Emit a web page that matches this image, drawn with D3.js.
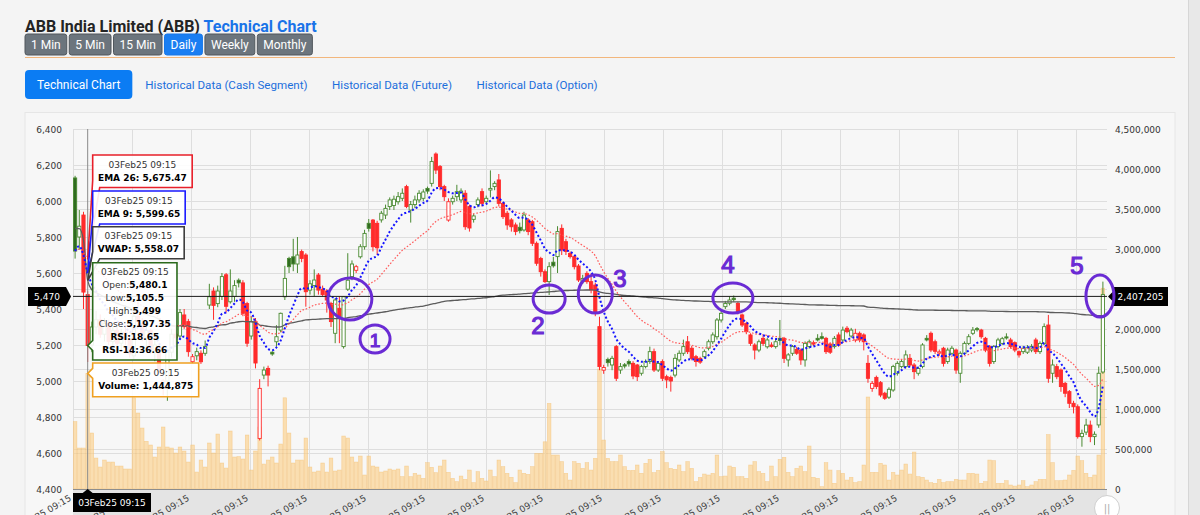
<!DOCTYPE html>
<html><head><meta charset="utf-8">
<script src="https://cdn.jsdelivr.net/npm/d3@7/dist/d3.min.js"></script>
<style>
html,body{margin:0;padding:0;background:#f4f4f4;overflow:hidden}
svg{display:block}
</style></head><body>
<svg id="c" width="1200" height="515"></svg>
<script>
// ---------------- DATA ----------------
const titleMain = "ABB India Limited (ABB)";
const titleAccent = "Technical Chart";
const intervals = ["1 Min","5 Min","15 Min","Daily","Weekly","Monthly"];
const activeInterval = "Daily";
const tabs = ["Technical Chart","Historical Data (Cash Segment)","Historical Data (Future)","Historical Data (Option)"];

const opens = [6128,5800,5922,5480.1,5200,5300,5340,5260,5320,5220,
5280,5210,5270,5230,5140,5360,5320,5240,5280,5170,
5190,4960,5000,5160,5260,5250,5367,5330,5107,5140,
5154,5154,5422,5500,5430,5470,5590,5440,5470,5560,
5545,5430,5250,5330,4681,5033,5070,5160,5218,5283,
5468,5681,5690,5650,5719,5700,5505,5530,5589,5510,
5500,5431,5265,5404,5191,5510,5580,5615,5690,5746,
5876,5894,5876,5895,5922,5969,5975,5996,6015,6080,
5950,5980,6006,6015,6070,6098,6261,6191,6080,5894,
5996,6024,6006,6043,5969,5898,5980,6052,5996,6061,
6080,6117,5987,5932,5895,5867,5854,5839,5895,5885,
5765,5681,5607,5552,5660,5691,5848,5774,5709,5691,
5639,5552,5598,5552,5533,5302,5060,5120,5089,5191,
5061,5090,5108,5098,5089,5043,5080,5108,5163,5061,
5108,5024,5020,5033,5117,5154,5218,5182,5135,5126,
5135,5182,5218,5246,5339,5413,5432,5460,5431,5367,
5320,5256,5200,5172,5237,5190,5200,5191,5237,5237,
5117,5154,5176,5172,5117,5191,5213,5237,5246,5237,
5205,5191,5256,5228,5293,5250,5228,5265,5256,5098,
4959,5020,4991,4932,4910,4950,5043,5080,5080,5126,
5089,5043,5080,5237,5265,5218,5155,5182,5108,5154,
5172,5043,5154,5209,5265,5291,5283,5237,5191,5108,
5191,5209,5245,5228,5213,5163,5163,5160,5172,5228,
5163,5209,5311,5043,5080,5061,4987,4941,4876,4857,
4691,4716,4755,4691,4756,5050];

const highs = [6140,5950,5940,5499,5330,5390,5370,5350,5340,5300,
5300,5290,5310,5250,5380,5440,5350,5300,5290,5230,
5200,5010,5180,5290,5300,5400,5400,5345,5150,5185,
5170,5225,5540,5520,5530,5600,5600,5620,5560,5570,
5560,5440,5360,5350,5010,5080,5085,5165,5310,5380,
5640,5690,5790,5800,5730,5710,5560,5620,5600,5530,
5510,5440,5460,5470,5470,5710,5670,5645,5760,5840,
5900,5900,5890,5945,5980,6020,6030,6050,6070,6090,
6000,6030,6060,6065,6080,6245,6270,6200,6090,6015,
6030,6090,6070,6060,5980,5930,6020,6070,6030,6170,
6110,6150,5995,5945,5905,5880,5880,5940,5905,5895,
5775,5690,5620,5660,5690,5860,5870,5790,5720,5700,
5650,5590,5610,5598,5545,5357,5090,5130,5140,5200,
5100,5100,5120,5110,5095,5090,5120,5191,5180,5110,
5120,5035,5030,5150,5170,5230,5250,5195,5145,5135,
5175,5230,5270,5350,5390,5445,5470,5475,5440,5375,
5330,5265,5210,5230,5250,5240,5215,5230,5339,5245,
5155,5200,5190,5180,5220,5230,5225,5260,5270,5245,
5215,5250,5270,5302,5305,5295,5290,5275,5265,5144,
5000,5030,5000,4940,4965,5090,5110,5120,5170,5150,
5100,5080,5210,5255,5275,5230,5175,5190,5185,5195,
5180,5165,5220,5260,5300,5300,5290,5245,5200,5200,
5240,5245,5265,5240,5220,5170,5195,5200,5205,5240,
5220,5320,5367,5120,5095,5070,4995,4950,4890,4870,
4730,4790,4780,4720,5080,5552];

const lows = [5680,5730,5400,5105.5,5160,5260,5240,5220,5200,5180,
5190,5170,5200,5130,5120,5300,5220,5180,5150,5110,
5040,4920,4890,5130,5200,5230,5290,5135,5095,5115,
5095,5140,5400,5340,5410,5450,5380,5430,5440,5520,
5360,5190,5230,5070,4670,5010,4970,5140,5190,5270,
5450,5600,5610,5600,5660,5413,5480,5470,5480,5470,
5380,5300,5210,5210,5180,5500,5560,5600,5680,5730,
5830,5720,5700,5880,5900,5950,5950,5980,6000,5960,
5880,5960,5990,6000,6040,6080,6150,6060,6000,5885,
5980,6000,5990,5840,5830,5880,5965,5970,5985,6020,
6060,5970,5900,5840,5830,5810,5820,5830,5810,5750,
5640,5580,5545,5478,5630,5600,5700,5700,5680,5620,
5550,5540,5540,5487,5360,5060,5040,5080,5060,5000,
5040,5070,5080,5010,5000,5030,5070,5095,5050,5050,
5000,4960,4941,5020,5105,5140,5150,5115,5080,5095,
5125,5170,5205,5230,5325,5400,5420,5440,5370,5300,
5260,5195,5120,5160,5195,5180,5185,5180,5200,5100,
5080,5140,5145,5090,5080,5180,5195,5220,5230,5150,
5150,5180,5190,5215,5265,5240,5215,5215,5170,4990,
4940,4955,4910,4895,4900,4940,5030,5070,5070,5080,
5010,5030,5070,5220,5160,5150,5140,5080,5095,5145,
5040,4990,5145,5200,5255,5275,5235,5160,5080,5095,
5180,5200,5230,5180,5160,5130,5150,5150,5160,5150,
5150,5200,4990,4990,5010,4940,4910,4850,4820,4680,
4635,4700,4660,4644,4740,5040];

const closes = [5722,5860,5494,5197.35,5300,5340,5260,5320,5220,5280,
5210,5270,5230,5150,5360,5330,5240,5280,5170,5200,
5060,5000,5160,5260,5240,5380,5302,5163,5135,5163,
5107,5191,5468,5420,5500,5580,5415,5500,5530,5545,
5376,5210,5330,5100,4959,5061,5033,5150,5246,5376,
5570,5635,5650,5700,5681,5496,5540,5561,5505,5480,
5450,5330,5450,5357,5468,5560,5650,5635,5746,5820,
5848,5746,5740,5932,5959,6006,6010,6024,6043,5969,
5980,6006,6043,6050,6055,6219,6172,6080,6024,5996,
6015,6052,6055,5857,5850,5917,6006,5987,6015,6070,
6098,5987,5913,5867,5857,5830,5835,5922,5830,5765,
5654,5607,5552,5635,5640,5830,5728,5720,5691,5635,
5561,5570,5552,5506,5376,5080,5075,5102,5126,5015,
5080,5083,5095,5028,5024,5080,5108,5163,5061,5098,
5015,5006,5000,5126,5154,5191,5163,5126,5108,5105,
5163,5218,5256,5339,5376,5431,5450,5452,5385,5311,
5274,5209,5172,5218,5209,5228,5192,5218,5225,5126,
5145,5191,5154,5117,5209,5218,5205,5228,5237,5163,
5160,5237,5200,5283,5274,5283,5265,5228,5218,5015,
4987,4969,4922,4904,4954,5080,5098,5108,5145,5089,
5052,5070,5200,5228,5172,5165,5162,5098,5172,5182,
5061,5154,5209,5246,5283,5285,5246,5172,5098,5191,
5228,5235,5239,5191,5172,5145,5182,5185,5191,5163,
5209,5302,5015,5089,5024,4969,4932,4876,4857,4691,
4709,4755,4691,4704,5043,5480];

const volumes = [842000,512000,512000,1444875,700000,387000,275000,362000,337000,337000,
287000,287000,250000,250000,1140000,950000,762000,596000,550000,400000,
525000,775000,525000,512000,450000,525000,475000,337000,550000,212000,
362000,275000,575000,450000,687000,325000,262000,725000,400000,405000,
375000,675000,237000,475000,775000,312000,362000,400000,325000,562000,
1140000,700000,325000,362000,362000,637000,275000,212000,225000,325000,
212000,387000,225000,237000,662000,637000,400000,337000,412000,175000,
412000,287000,275000,212000,225000,250000,237000,250000,154000,287000,
154000,196000,175000,133000,329000,271000,204000,287000,362000,208000,
133000,92000,162000,121000,237000,79000,217000,133000,100000,237000,
154000,362000,279000,196000,146000,79000,237000,196000,183000,279000,
446000,446000,590000,1070000,425000,425000,342000,196000,112000,342000,
321000,258000,329000,237000,383000,1500000,612000,383000,342000,342000,
425000,279000,233000,233000,300000,196000,321000,371000,204000,233000,
467000,329000,258000,246000,300000,217000,342000,258000,92000,146000,
187000,175000,196000,425000,154000,162000,287000,271000,154000,154000,
133000,300000,342000,217000,196000,92000,287000,154000,371000,396000,
208000,154000,258000,287000,217000,537000,146000,133000,29000,329000,
237000,71000,229000,196000,112000,146000,79000,92000,300000,1150000,
208000,208000,321000,300000,112000,208000,175000,237000,312000,187000,
462000,154000,146000,112000,79000,71000,121000,79000,92000,92000,
121000,112000,112000,196000,196000,187000,71000,92000,362000,354000,
71000,71000,104000,50000,37000,50000,104000,29000,50000,92000,
121000,121000,680000,329000,104000,104000,112000,175000,233000,412000,
354000,196000,146000,175000,425000,2510000];

const xTickLabels = ["29Jan25 09:15","18Feb25 09:15","11Mar25 09:15","02Apr25 09:15","25Apr25 09:15","16May25 09:15",
"05Jun25 09:15","25Jun25 09:15","15Jul25 09:15","04Aug25 09:15","25Aug25 09:15","15Sep25 09:15",
"06Oct25 09:15","27Oct25 09:15","17Nov25 09:15","05Dec25 09:15","26Dec25 09:15","15Jan26 09:15"];
const priceTicks = [4400,4600,4800,5000,5200,5400,5600,5800,6000,6200,6400];
const volumeTicks = [0,500000,1000000,1500000,2000000,2500000,3000000,3500000,4000000,4500000];

// hover state shown in the picture
const hoverIndex = 3;
const hoverLabel = "03Feb25 09:15";
const hoverEMA26 = 5675.47, hoverEMA9 = 5599.65, hoverVWAP = 5558.07;
const hoverRSI = 18.65, hoverRSI14 = 36.66;
const cursorPrice = 5470, cursorVolume = 2407205;

// hand-drawn marks
const markLabels = ["1","2","3","4","5"];

// ---------------- LAYOUT ----------------
const W=1200,H=515;
const svg=d3.select("#c");
const N=closes.length;
const plotL=73, plotR=1107, plotT=129, plotB=489;
const x=d3.scaleLinear().domain([-0.5,N-0.5]).range([plotL,1105]);
const yP=d3.scaleLinear().domain([4400,6400]).range([plotB,plotT]);
const yV=d3.scaleLinear().domain([0,4500000]).range([plotB,plotT]);
const FUI="Roboto, 'Open Sans', sans-serif";
const FCH="'DejaVu Sans', Verdana, sans-serif";
const fmt=d3.format(",");

svg.append("rect").attr("width",W).attr("height",H).attr("fill","#f4f4f4");
svg.append("rect").attr("x",1188).attr("y",0).attr("width",12).attr("height",H).attr("fill","#e8e8e8");
svg.append("line").attr("x1",1188.5).attr("x2",1188.5).attr("y1",0).attr("y2",H).attr("stroke","#d6d6d6");

// header
const title=svg.append("text").attr("x",25).attr("y",32).attr("font-family",FUI).attr("font-weight",700).attr("font-size",16);
title.append("tspan").attr("fill","#242424").text(titleMain+" ");
title.append("tspan").attr("fill","#1a73e8").text(titleAccent);

let bx=25;
intervals.forEach(t=>{
  const g=svg.append("g");
  const active = t===activeInterval;
  const r=g.append("rect");
  const tx=g.append("text").attr("font-family",FUI).attr("font-size",12).attr("fill","#fff").text(t);
  const w=tx.node().getComputedTextLength()+12;
  r.attr("x",bx).attr("y",34).attr("width",w).attr("height",21).attr("rx",2.5)
   .attr("fill",active?"#1a7ef2":"#6c757d").attr("stroke",active?"#1677e8":"#50575d").attr("stroke-width",1);
  tx.attr("x",bx+w/2).attr("y",49).attr("text-anchor","middle");
  bx+=w+2.5;
});
svg.append("line").attr("x1",25).attr("x2",1175).attr("y1",57.5).attr("y2",57.5).attr("stroke","#f2b67c").attr("stroke-width",1);

// tabs
let tx0=25;
tabs.forEach((t,i)=>{
  if(i===0){
    const g=svg.append("g");
    const r=g.append("rect");
    const tt=g.append("text").attr("font-family",FUI).attr("font-size",12).attr("fill","#fff").text(t);
    const w=tt.node().getComputedTextLength()+24;
    r.attr("x",tx0).attr("y",70).attr("width",w).attr("height",29).attr("rx",4).attr("fill","#0b7cf3");
    tt.attr("x",tx0+w/2).attr("y",89).attr("text-anchor","middle");
    tx0+=w+13;
  } else {
    const tt=svg.append("text").attr("x",tx0).attr("y",89).attr("font-family",FUI).attr("font-size",11.6).attr("fill","#1c6fdc").text(t);
    tx0+=tt.node().getComputedTextLength()+24.5;
  }
});

// card
svg.append("rect").attr("x",25).attr("y",112.5).attr("width",1150).attr("height",420).attr("fill","#f7f7f7").attr("stroke","#e6e6e6");

// x tick positions (every ~14 sessions)
const tickStep=14.064;
const xTicks=xTickLabels.map((l,k)=>x(-0.5+k*tickStep));

// grid
const grid=svg.append("g").attr("stroke","#dedede").attr("stroke-width",1);
priceTicks.forEach(v=>grid.append("line").attr("x1",plotL).attr("x2",plotR).attr("y1",Math.round(yP(v))+0.5).attr("y2",Math.round(yP(v))+0.5));
volumeTicks.forEach(v=>grid.append("line").attr("x1",plotL).attr("x2",plotR).attr("y1",Math.round(yV(v))+0.5).attr("y2",Math.round(yV(v))+0.5));
xTicks.forEach(px=>grid.append("line").attr("x1",Math.round(px)+0.5).attr("x2",Math.round(px)+0.5).attr("y1",plotT).attr("y2",plotB));

// bottom band
svg.append("rect").attr("x",plotL).attr("y",plotB).attr("width",plotR-plotL).attr("height",H-plotB).attr("fill","#e4e4e4");

// x labels
const xl=svg.append("g").attr("font-family",FCH).attr("font-size",9).attr("fill","#444");
xTicks.forEach((px,k)=>{
  xl.append("text").attr("text-anchor","end").attr("transform",`translate(${px-1},${500}) rotate(-30)`).text(xTickLabels[k]);
});

// crosshair geometry
const hx=x(hoverIndex), cy=yP(cursorPrice);

// axis labels (a label hidden under the cursor's value box is not drawn)
const al=svg.append("g").attr("font-family",FCH).attr("font-size",9).attr("fill","#333");
priceTicks.forEach(v=>{ if(Math.abs(yP(v)-cy)>10) al.append("text").attr("x",62).attr("y",yP(v)+3.5).attr("text-anchor","end").text(fmt(v)); });
volumeTicks.forEach(v=>{ if(Math.abs(yV(v)-cy)>10) al.append("text").attr("x",1115).attr("y",yV(v)+3.5).attr("text-anchor","start").text(fmt(v)); });

// volume bars
const idx=d3.range(N);
svg.append("g").selectAll("rect").data(idx).join("rect")
  .attr("x",i=>x(i)-1.8).attr("width",3.6)
  .attr("y",i=>yV(volumes[i])).attr("height",i=>plotB-yV(volumes[i]))
  .attr("fill","rgba(252,205,130,0.6)").attr("stroke","rgba(244,186,100,0.55)").attr("stroke-width",0.6);

svg.append("line").attr("x1",plotL).attr("x2",plotR).attr("y1",plotB+0.5).attr("y2",plotB+0.5).attr("stroke","#8d8d8d");

// candles
const GREEN="#4a8a32", GREEN_FILL="#2f6b1f", RED="#ff2b2b";
const isUp=i=> i===0 || closes[i]>=closes[i-1];
const hollow=i=> closes[i]>=opens[i];
const cg=svg.append("g");
idx.forEach(i=>{
  const col=isUp(i)?GREEN:RED;
  const hi=Math.max(highs[i],opens[i],closes[i]), lo=Math.min(lows[i],opens[i],closes[i]);
  cg.append("line").attr("x1",x(i)).attr("x2",x(i)).attr("y1",yP(hi)).attr("y2",yP(lo)).attr("stroke",col).attr("stroke-width",1);
  const top=yP(Math.max(opens[i],closes[i])), bot=yP(Math.min(opens[i],closes[i]));
  cg.append("rect").attr("x",x(i)-1.6).attr("width",3.2).attr("y",top).attr("height",Math.max(1,bot-top))
    .attr("fill",hollow(i)?"#ffffff":(isUp(i)?GREEN_FILL:RED)).attr("stroke",col).attr("stroke-width",0.9);
});

// indicators
function ema(arr,n){const k=2/(n+1);const o=[];arr.forEach((v,i)=>o.push(i?o[i-1]+k*(v-o[i-1]):v));return o;}
const ema9=ema(closes,9), ema26=ema(closes,26);
let cpv=0,cv=0;
const vwap=closes.map((c,i)=>{cpv+=(highs[i]+lows[i]+c)/3*volumes[i];cv+=volumes[i];return cpv/cv;});
const ln=arr=>d3.line().x(i=>x(i)).y(i=>yP(arr[i])).curve(d3.curveMonotoneX)(idx);
svg.append("path").attr("d",ln(vwap)).attr("fill","none").attr("stroke","#5c5c5c").attr("stroke-width",1.3);
svg.append("path").attr("d",ln(ema26)).attr("fill","none").attr("stroke","#ff5a5a").attr("stroke-width",1.2).attr("stroke-dasharray","1.6,1.8");
svg.append("path").attr("d",ln(ema9)).attr("fill","none").attr("stroke","#1414ff").attr("stroke-width",2).attr("stroke-dasharray","2,2.2");

// crosshair
svg.append("line").attr("x1",hx).attr("x2",hx).attr("y1",plotT).attr("y2",plotB).attr("stroke","#8a8a8a").attr("stroke-width",1);
svg.append("line").attr("x1",plotL).attr("x2",plotR).attr("y1",cy).attr("y2",cy).attr("stroke","#1a1a1a").attr("stroke-width",1);

// tooltips
function tip(y0,h,w,color,ay,lines,mode){
  const x0=hx+5, x1=x0+w, y1=y0+h, ax=hx;
  let d;
  if(mode==="below") d=`M${x0},${y0}H${x1}V${y1}H${x0+7}L${ax},${ay}L${x0},${y1-7}Z`;
  else d=`M${x0},${y0}H${x1}V${y1}H${x0}V${ay+5}L${ax},${ay}L${x0},${ay-5}Z`;
  const g=svg.append("g");
  g.append("path").attr("d",d).attr("fill","rgba(255,255,255,0.9)").attr("stroke",color).attr("stroke-width",1.6);
  lines.forEach((segs,j)=>{
    const t=g.append("text").attr("x",x0+w/2).attr("y",y0+12.6+j*12.9).attr("text-anchor","middle")
      .attr("font-family",FCH).attr("font-size",9).attr("fill","#222");
    segs.forEach(s=>t.append("tspan").attr("font-weight",s[1]?700:400).attr("fill",s[1]?"#000":"#333").text(s[0]));
  });
}
const f2=d3.format(",.2f");
tip(155,32.5,99.5,"#e8202a",yP(hoverEMA26),[[[hoverLabel,false]],[["EMA 26: "+f2(hoverEMA26),true]]],"below");
tip(191,33,92.5,"#1a1aff",yP(hoverEMA9),[[[hoverLabel,false]],[["EMA 9: "+f2(hoverEMA9),true]]],"below");
tip(226.7,32,91.5,"#3d3d3d",yP(hoverVWAP),[[[hoverLabel,false]],[["VWAP: "+f2(hoverVWAP),true]]],"below");
tip(262.7,97.3,84.3,"#2b6a1c",yP(closes[hoverIndex]),[
  [[hoverLabel,false]],
  [["Open:",false],[fmt(opens[hoverIndex]),true]],
  [["Low:",false],[fmt(lows[hoverIndex]),true]],
  [["High:",false],[fmt(highs[hoverIndex]),true]],
  [["Close:",false],[fmt(closes[hoverIndex]),true]],
  [["RSI:"+hoverRSI,true]],
  [["RSI-14:"+hoverRSI14,true]]
],"left");
tip(363,33.7,106,"#f0a020",yV(volumes[hoverIndex]),[[[hoverLabel,false]],[["Volume: "+fmt(volumes[hoverIndex]),true]]],"left");

// crosshair labels
const lb=svg.append("g").attr("font-family",FCH).attr("font-size",9);
lb.append("path").attr("d",`M28,${cy-9.5}H66L71,${cy}L66,${cy+9.5}H28Z`).attr("fill","#000");
lb.append("text").attr("x",47).attr("y",cy+3.3).attr("text-anchor","middle").attr("fill","#fff").text(fmt(cursorPrice));
lb.append("path").attr("d",`M${plotR+1},${cy}L${plotR+6},${cy-5}V${cy-9.5}H1168V${cy+9.5}H${plotR+6}V${cy+5}Z`).attr("fill","#000");
lb.append("text").attr("x",(plotR+6+1168)/2).attr("y",cy+3.3).attr("text-anchor","middle").attr("fill","#fff").text(fmt(cursorVolume));
lb.append("path").attr("d",`M${plotL},493H${hx-5}L${hx},489L${hx+5},493H151V512H${plotL}Z`).attr("fill","#000");
lb.append("text").attr("x",(plotL+151)/2).attr("y",506).attr("text-anchor","middle").attr("fill","#fff").text(hoverLabel);

// scroll handle
svg.append("circle").attr("cx",1107).attr("cy",508).attr("r",12.5).attr("fill","#fff").attr("stroke","#cfcfcf");
svg.append("text").attr("x",1107).attr("y",512).attr("text-anchor","middle").attr("font-family",FCH).attr("font-size",10).attr("fill","#aaa").text("||");

// hand-drawn annotations
const PURPLE="#6a2bd4";
const ann=svg.append("g").attr("fill","none").attr("stroke",PURPLE).attr("stroke-width",3);
const rings=[[65.5,5455,22,21],[113,5455,16,14],[124,5483,17,19],[156.8,5461,20,15],[244.3,5472,14,21],[71.5,5233,15,14]];
rings.forEach(r=>ann.append("ellipse").attr("cx",x(r[0])).attr("cy",yP(r[1])).attr("rx",r[2]).attr("ry",r[3]));
const labelPos=[[71.5,5233],[110.3,5306],[129.9,5567],[155.6,5644],[238.8,5639]];
markLabels.forEach((t,k)=>{
  svg.append("text").attr("x",x(labelPos[k][0])).attr("y",yP(labelPos[k][1])+8).attr("text-anchor","middle")
    .attr("font-family","'Liberation Sans', Arial, sans-serif").attr("font-size",k===0?19:24)
    .attr("fill",PURPLE).attr("stroke",PURPLE).attr("stroke-width",1.2).text(t);
});
</script>
</body></html>
